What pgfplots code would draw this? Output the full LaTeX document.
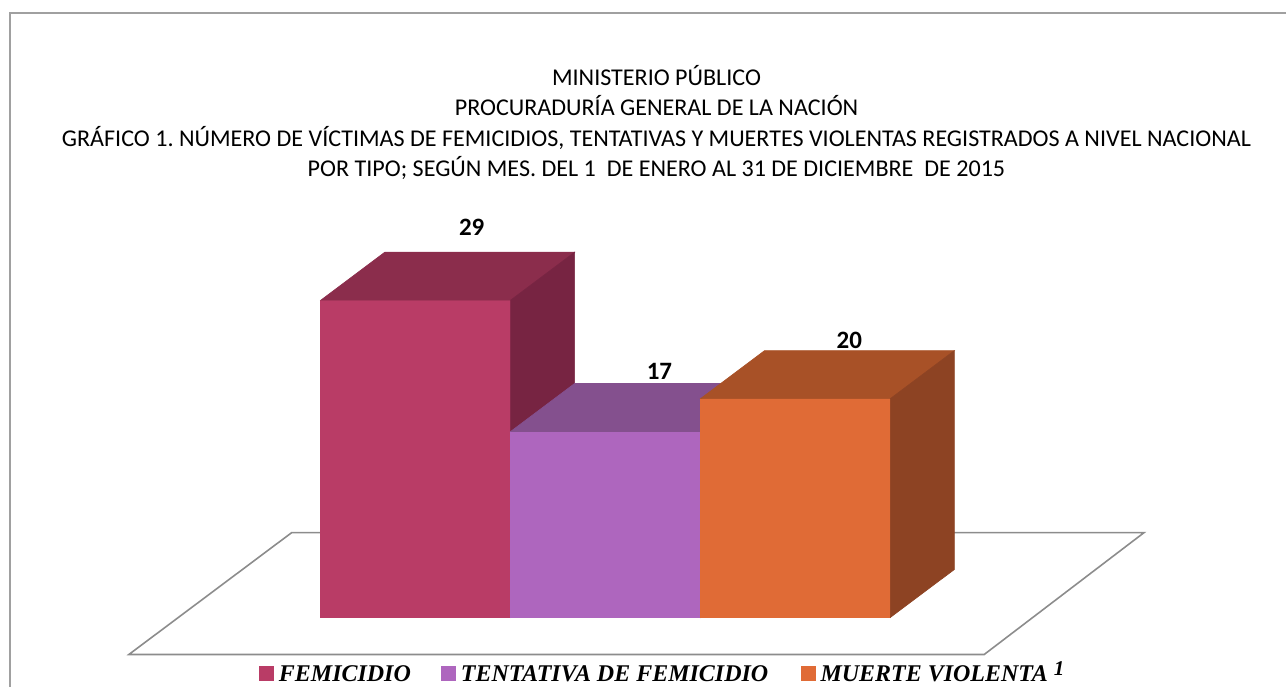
\documentclass[border=0pt]{standalone}
\usepackage{pgfplots}
\pgfplotsset{compat=1.18}
\usepackage{fontspec}
\setmainfont{Carlito}
\newfontfamily\legfont{Liberation Serif}
\definecolor{femF}{HTML}{B93C66}
\definecolor{femT}{HTML}{8B2D4C}
\definecolor{femS}{HTML}{772442}
\definecolor{tenF}{HTML}{AE66BE}
\definecolor{tenT}{HTML}{84508E}
\definecolor{tenS}{HTML}{6E4178}
\definecolor{munF}{HTML}{E06B36}
\definecolor{munT}{HTML}{A85127}
\definecolor{munS}{HTML}{8D4323}
\definecolor{floorc}{HTML}{8C8C8C}
\definecolor{framec}{HTML}{A0A0A0}
\frenchspacing
\begin{document}
\begin{tikzpicture}
\begin{axis}[
  scale only axis, width=1287bp, height=688bp,
  xmin=-1.6895, xmax=5.0842, ymin=-6.393, ymax=56.438,
  axis lines=none, clip=false,
  face/.style={fill=#1, draw=#1, line width=0.6bp, line join=miter},
]
% frame
\path (rel axis cs:0,0) rectangle (rel axis cs:1,1);
\draw[framec, line width=2bp] (rel axis cs:1,0.9818) -- (rel axis cs:0.00777,0.9818) -- (rel axis cs:0.00777,0);
% floor
\addplot[draw=floorc, line width=1.6bp] coordinates {(-1.0105,-3.379) (-0.1526,7.763) (4.3368,7.763) (3.4947,-3.379)} -- cycle;
% FEMICIDIO = 29
\addplot[face=femF] coordinates {(0,0) (0,29) (1,29) (1,0)} -- cycle;
\addplot[face=femT] coordinates {(0,29) (0.337,33.384) (1.337,33.384) (1,29)} -- cycle;
\addplot[face=femS] coordinates {(1,0) (1,29) (1.337,33.384) (1.337,4.384)} -- cycle;
% TENTATIVA = 17
\addplot[face=tenF] coordinates {(1,0) (1,17) (2,17) (2,0)} -- cycle;
\addplot[face=tenT] coordinates {(1,17) (1.337,21.384) (2.337,21.384) (2,17)} -- cycle;
\addplot[face=tenS] coordinates {(2,0) (2,17) (2.337,21.384) (2.337,4.384)} -- cycle;
% MUERTE = 20
\addplot[face=munF] coordinates {(2,0) (2,20) (3,20) (3,0)} -- cycle;
\addplot[face=munT] coordinates {(2,20) (2.337,24.384) (3.337,24.384) (3,20)} -- cycle;
\addplot[face=munS] coordinates {(3,0) (3,20) (3.337,24.384) (3.337,4.384)} -- cycle;
% value labels
\node[font=\fontsize{25bp}{28bp}\selectfont\bfseries] at (axis cs:0.795,35.7) {29};
\node[font=\fontsize{25bp}{28bp}\selectfont\bfseries] at (axis cs:1.784,22.47) {17};
\node[font=\fontsize{25bp}{28bp}\selectfont\bfseries] at (axis cs:2.784,25.3) {20};
% titles
\begin{scope}[every node/.style={anchor=base, font=\fontsize{24.1bp}{28bp}\selectfont}]
\node at (rel axis cs:0.5105,0.8749) {MINISTERIO PÚBLICO};
\node at (rel axis cs:0.5105,0.8313) {PROCURADURÍA GENERAL DE LA NACIÓN};
\node at (rel axis cs:0.5105,0.7862) {GRÁFICO 1. NÚMERO DE VÍCTIMAS DE FEMICIDIOS, TENTATIVAS Y MUERTES VIOLENTAS REGISTRADOS A NIVEL NACIONAL};
\node at (rel axis cs:0.5105,0.7426) {POR TIPO; SEGÚN MES. DEL 1\ \ DE ENERO AL 31 DE DICIEMBRE\ \ DE 2015};
\end{scope}
% legend
\begin{scope}[every node/.style={anchor=base west, inner sep=0pt, font=\fontsize{24bp}{26bp}\legfont\bfseries\itshape}]
\node at (rel axis cs:0.20124,0.00872) {\textcolor{femF}{\rule{15bp}{15bp}}\hspace{5bp}FEMICIDIO};
\node at (rel axis cs:0.34266,0.00872) {\textcolor{tenF}{\rule{15bp}{15bp}}\hspace{5bp}TENTATIVA DE FEMICIDIO};
\node at (rel axis cs:0.62238,0.00872) {\textcolor{munF}{\rule{15bp}{15bp}}\hspace{5bp}MUERTE VIOLENTA\hspace{6bp}\raisebox{-3bp}{\fontsize{30bp}{30bp}\selectfont\textsuperscript{1}}};
\end{scope}
\end{axis}
\end{tikzpicture}
\end{document}
